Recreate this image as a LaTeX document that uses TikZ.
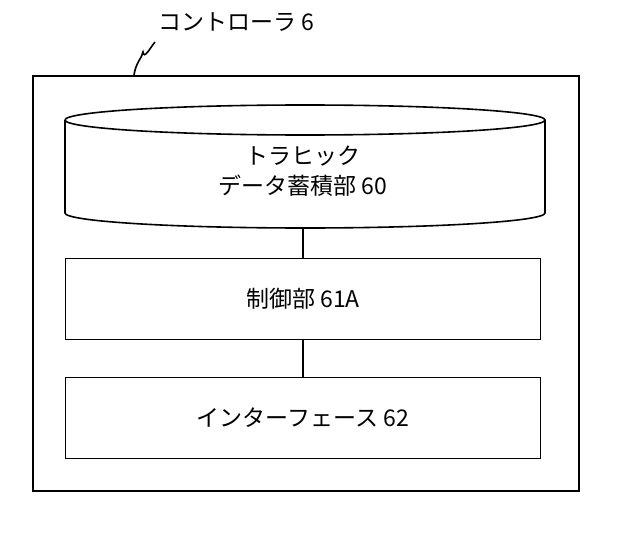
\documentclass[tikz,border=0pt]{standalone}
\usepackage{fontspec}
\setmainfont{Noto Sans CJK JP}
\begin{document}
\begin{tikzpicture}[x=1pt,y=-1pt,line width=1.6pt,
  blockbox/.style={draw,minimum width=475pt,minimum height=81pt,font=\fontsize{23}{28}\selectfont}]
    \useasboundingbox(0,0)rectangle(622,535);
    % outer controller frame
    \node[draw,minimum width=546pt,minimum height=415pt,anchor=north west](ctrl)at(32,75){};
    \node[font=\fontsize{23}{28}\selectfont](ctrlname)at(236,22){コントローラ 6};
    \coordinate(sq)at(134,75);
    \draw(sq)..controls(136,62)and(142,58)..(143,52)..controls(144,60)and(150,48)..(155,42);

    % cylinder
    \draw(65,120)arc(180:-180:240 and 15);
    \draw(65,120)--(65,213)arc(180:0:240 and 15)--(545,120);
    \node[font=\fontsize{23}{30}\selectfont,align=center](store)at(303,171){トラヒック\\データ蓄積部 60};
    \coordinate(storebot)at(303,228);

    \node[blockbox](ctl)at(303,299){制御部 61A};
    \node[blockbox](ifc)at(303,418){インターフェース 62};
    \draw(storebot)--(ctl.north);
    \draw(ctl.south)--(ifc.north);
\end{tikzpicture}
\end{document}
